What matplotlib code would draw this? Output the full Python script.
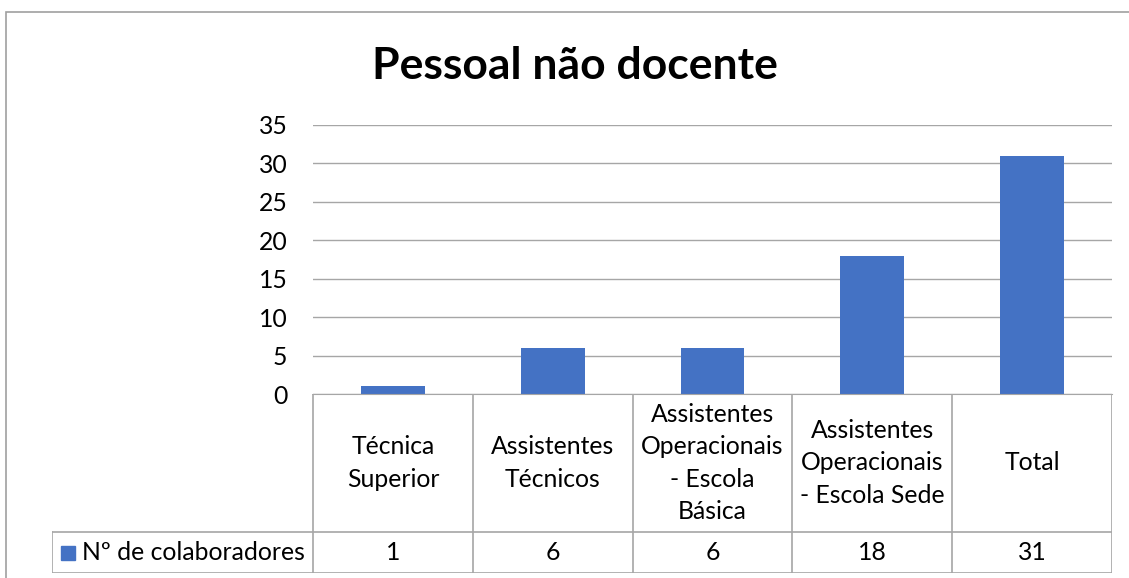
import matplotlib.pyplot as plt
from matplotlib.lines import Line2D
from matplotlib.patches import Rectangle

plt.rcParams["font.family"] = ["Lato", "DejaVu Sans"]

title = "Pessoal não docente"
series_name = "Nº de colaboradores"
categories = [
    "Técnica\nSuperior",
    "Assistentes\nTécnicos",
    "Assistentes\nOperacionais\n- Escola\nBásica",
    "Assistentes\nOperacionais\n- Escola Sede",
    "Total",
]
values = [1, 6, 6, 18, 31]
y_ticks = [0, 5, 10, 15, 20, 25, 30, 35]

BAR_COLOR = "#4472C4"
GRID_COLOR = "#a6a6a6"
TEXT_COLOR = "#000000"
FS = 17.8

W, H = 1129, 578


def fx(px):
    return px / W


def fy(py):
    return 1 - py / H


fig = plt.figure(figsize=(W / 100, H / 100), dpi=100)

# chart area border
fig.add_artist(Rectangle((fx(6), fy(600)), fx(1140 - 6), fy(12) - fy(600),
                         transform=fig.transFigure, fill=False,
                         edgecolor="#a0a0a0", linewidth=1.2))

fig.text(fx(575), fy(66), title, ha="center", va="center",
         fontsize=32, fontweight="bold", color=TEXT_COLOR)

# plot area
left, right, top, bottom = 313, 1112, 125, 394
ax = fig.add_axes([fx(left), fy(bottom), fx(right - left), fy(top) - fy(bottom)])
x = list(range(len(values)))
ax.bar(x, values, width=0.4, color=BAR_COLOR, zorder=3)
ax.set_xlim(-0.5, len(values) - 0.5)
ax.set_ylim(0, 35)
ax.set_yticks(y_ticks)
ax.set_yticklabels([str(t) for t in y_ticks], fontsize=FS, color=TEXT_COLOR)
ax.tick_params(axis="y", length=0, pad=18.5)
ax.set_xticks([])
ax.grid(axis="y", color=GRID_COLOR, linewidth=1, zorder=0)
for side in ["top", "right", "left"]:
    ax.spines[side].set_visible(False)
ax.spines["bottom"].set_color(GRID_COLOR)
ax.spines["bottom"].set_zorder(4)

# data table under the plot
tab_left, tab_bottom = 52, 573
col_w = (right - left) / len(values)
row_split = 532
tab = fig.add_axes([fx(tab_left), fy(tab_bottom), fx(right - tab_left), fy(bottom) - fy(tab_bottom)])
x0 = -0.5 - (left - tab_left) / col_w
tab.set_xlim(x0, len(values) - 0.5)
tab.set_ylim(tab_bottom, bottom)  # pixel rows, inverted
tab.axis("off")

line_kw = dict(color=GRID_COLOR, linewidth=1.2)
tab.add_line(Line2D([-0.5, len(values) - 0.5], [bottom, bottom], **line_kw))
for yy in [row_split, tab_bottom]:
    tab.add_line(Line2D([x0, len(values) - 0.5], [yy, yy], **line_kw))
for i in range(len(values) + 1):
    xx = i - 0.5
    tab.add_line(Line2D([xx, xx], [bottom, tab_bottom], **line_kw))
tab.add_line(Line2D([x0, x0], [row_split, tab_bottom], **line_kw))

for i, (cat, val) in enumerate(zip(categories, values)):
    tab.text(i, (bottom + row_split) / 2, cat, ha="center", va="center",
             fontsize=FS, color=TEXT_COLOR, linespacing=1.5)
    tab.text(i, (row_split + tab_bottom) / 2, str(val), ha="center", va="center",
             fontsize=FS, color=TEXT_COLOR)

# legend key inside the table
key_x = x0 + (61 - tab_left) / col_w
key_w = 14 / col_w
mid = (row_split + tab_bottom) / 2
tab.add_patch(Rectangle((key_x, mid - 7), key_w, 14, color=BAR_COLOR))
tab.text(key_x + key_w + 7 / col_w, mid, series_name, ha="left", va="center",
         fontsize=FS, color=TEXT_COLOR)

fig.savefig("out.png", dpi=100)
